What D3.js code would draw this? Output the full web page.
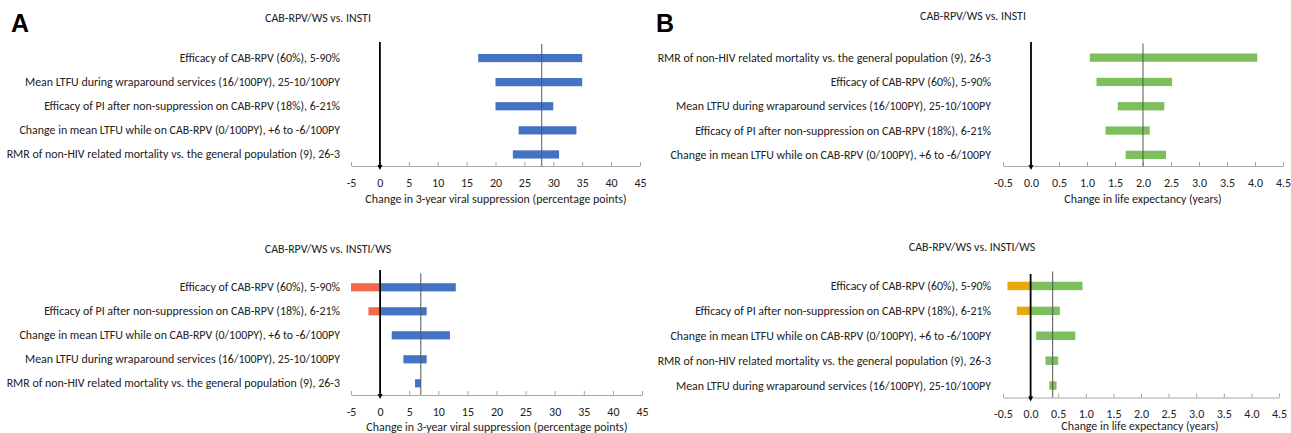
<!DOCTYPE html>
<html>
<head>
<meta charset="utf-8">
<script src="https://cdn.jsdelivr.net/npm/d3@7/dist/d3.min.js"></script>
<style>
  html, body { margin: 0; padding: 0; background: #fff; }
  svg { display: block; }
</style>
</head>
<body>
<svg id="chart" width="1291" height="433"></svg>
<script>
// ---------------- DATA ----------------
const titleTop = "CAB-RPV/WS vs. INSTI";
const titleBottom = "CAB-RPV/WS vs. INSTI/WS";
const axisTitleA = "Change in 3-year viral suppression (percentage points)";
const axisTitleB = "Change in life expectancy (years)";

const ticksA = [-5, 0, 5, 10, 15, 20, 25, 30, 35, 40, 45];
const tickLabelsA = ["-5", "0", "5", "10", "15", "20", "25", "30", "35", "40", "45"];
const ticksB = [-0.5, 0, 0.5, 1, 1.5, 2, 2.5, 3, 3.5, 4, 4.5];
const tickLabelsB = ["-0.5", "0.0", "0.5", "1.0", "1.5", "2.0", "2.5", "3.0", "3.5", "4.0", "4.5"];

// Panel A, top: CAB-RPV/WS vs. INSTI (viral suppression)
const catsATop = [
  "Efficacy of CAB-RPV (60%), 5-90%",
  "Mean LTFU during wraparound services (16/100PY), 25-10/100PY",
  "Efficacy of PI after non-suppression on CAB-RPV (18%), 6-21%",
  "Change in mean LTFU while on CAB-RPV (0/100PY), +6 to -6/100PY",
  "RMR of non-HIV related mortality vs. the general population (9), 26-3"
];
const lowATop  = [17, 20, 20, 24, 23];
const highATop = [35, 35, 30, 34, 31];
const baseATop = 28;

// Panel A, bottom: CAB-RPV/WS vs. INSTI/WS (viral suppression)
const catsABot = [
  "Efficacy of CAB-RPV (60%), 5-90%",
  "Efficacy of PI after non-suppression on CAB-RPV (18%), 6-21%",
  "Change in mean LTFU while on CAB-RPV (0/100PY), +6 to -6/100PY",
  "Mean LTFU during wraparound services (16/100PY), 25-10/100PY",
  "RMR of non-HIV related mortality vs. the general population (9), 26-3"
];
const lowABot  = [-5, -2, 2, 4, 6];
const highABot = [13, 8, 12, 8, 7];
const baseABot = 7;

// Panel B, top: CAB-RPV/WS vs. INSTI (life expectancy)
const catsBTop = [
  "RMR of non-HIV related mortality vs. the general population (9), 26-3",
  "Efficacy of CAB-RPV (60%), 5-90%",
  "Mean LTFU during wraparound services (16/100PY), 25-10/100PY",
  "Efficacy of PI after non-suppression on CAB-RPV (18%), 6-21%",
  "Change in mean LTFU while on CAB-RPV (0/100PY), +6 to -6/100PY"
];
const lowBTop  = [1.05, 1.17, 1.55, 1.33, 1.69];
const highBTop = [4.04, 2.52, 2.38, 2.12, 2.41];
const baseBTop = 2.0;

// Panel B, bottom: CAB-RPV/WS vs. INSTI/WS (life expectancy)
const catsBBot = [
  "Efficacy of CAB-RPV (60%), 5-90%",
  "Efficacy of PI after non-suppression on CAB-RPV (18%), 6-21%",
  "Change in mean LTFU while on CAB-RPV (0/100PY), +6 to -6/100PY",
  "RMR of non-HIV related mortality vs. the general population (9), 26-3",
  "Mean LTFU during wraparound services (16/100PY), 25-10/100PY"
];
const lowBBot  = [-0.42, -0.25, 0.10, 0.27, 0.34];
const highBBot = [0.94, 0.53, 0.81, 0.50, 0.47];
const baseBBot = 0.4;

// ---------------- STYLE ----------------
const FONT = "Carlito, Calibri, 'Liberation Sans Narrow', 'Liberation Sans', Arial, sans-serif";
const FS = 11.9;
const blue = "#4472C4", orange = "#F4694B";
const green = "#7DBF5C", gold = "#E8AA0B";

const svg = d3.select("#chart");

function drawChart(cfg) {
  const g = svg.append("g");
  const x = d3.scaleLinear().domain(cfg.domain).range(cfg.xRange);
  const y = d3.scaleBand().domain(cfg.cats).range(cfg.yRange).paddingInner(0.66).paddingOuter(0.33);
  const rows = cfg.cats.map((c, i) => ({ cat: c, low: cfg.low[i], high: cfg.high[i] }));

  // title
  g.append("text")
    .attr("x", cfg.titleX).attr("y", cfg.titleY)
    .attr("text-anchor", "middle").attr("dominant-baseline", "central")
    .style("font-family", FONT).style("font-size", FS + "px").attr("fill", "#222")
    .text(cfg.title);

  // bars
  const segs = [];
  rows.forEach(r => {
    if (r.low < 0) {
      segs.push({ cat: r.cat, a: r.low, b: 0, c: cfg.neg });
      segs.push({ cat: r.cat, a: 0, b: r.high, c: cfg.pos });
    } else {
      segs.push({ cat: r.cat, a: r.low, b: r.high, c: cfg.pos });
    }
  });
  g.selectAll("rect.bar").data(segs).enter().append("rect")
    .attr("class", "bar")
    .attr("x", d => x(d.a))
    .attr("width", d => x(d.b) - x(d.a))
    .attr("y", d => y(d.cat))
    .attr("height", y.bandwidth())
    .attr("fill", d => d.c);

  // category labels
  g.selectAll("text.cat").data(rows).enter().append("text")
    .attr("class", "cat")
    .attr("x", cfg.labelRight)
    .attr("y", d => y(d.cat) + y.bandwidth() / 2)
    .attr("text-anchor", "end").attr("dominant-baseline", "central")
    .style("font-family", FONT).style("font-size", FS + "px").attr("fill", "#222")
    .text(d => d.cat);

  // axis
  const axis = d3.axisBottom(x)
    .tickValues(cfg.ticks)
    .tickFormat((d, i) => cfg.tickLabels[i])
    .tickSizeInner(-4).tickSizeOuter(0).tickPadding(12);
  const ax = g.append("g").attr("transform", `translate(0,${cfg.axisY})`).call(axis);
  ax.select(".domain").attr("stroke", "#a6a6a6");
  ax.selectAll(".tick line").attr("stroke", "#a6a6a6");
  ax.selectAll(".tick text")
    .style("font-family", FONT).style("font-size", "12px").attr("fill", "#222");

  // reference (base case) line
  g.append("line")
    .attr("x1", x(cfg.base)).attr("x2", x(cfg.base))
    .attr("y1", cfg.yRange[0] - 2).attr("y2", cfg.axisY)
    .attr("stroke", "#555").attr("stroke-width", 1);

  // zero line with arrow
  const x0 = x(0);
  g.append("line")
    .attr("x1", x0).attr("x2", x0)
    .attr("y1", cfg.zeroTop).attr("y2", cfg.axisY + 1)
    .attr("stroke", "#000").attr("stroke-width", 1.8);
  g.append("path")
    .attr("d", `M${x0 - 2.5},${cfg.axisY - 1} L${x0 + 2.5},${cfg.axisY - 1} L${x0},${cfg.axisY + 4} Z`)
    .attr("fill", "#000");

  // axis title
  g.append("text")
    .attr("x", cfg.axisTitleX).attr("y", cfg.axisTitleY)
    .attr("text-anchor", "middle").attr("dominant-baseline", "central")
    .style("font-family", FONT).style("font-size", FS + "px").attr("fill", "#222")
    .text(cfg.axisTitle);
}

drawChart({
  title: titleTop, titleX: 318, titleY: 18,
  cats: catsATop, low: lowATop, high: highATop, base: baseATop,
  domain: [-5, 45], xRange: [351, 640], yRange: [46, 166.5],
  ticks: ticksA, tickLabels: tickLabelsA, axisY: 166, zeroTop: 42,
  labelRight: 340, pos: blue, neg: orange,
  axisTitle: axisTitleA, axisTitleX: 496, axisTitleY: 199
});
drawChart({
  title: titleBottom, titleX: 328, titleY: 249,
  cats: catsABot, low: lowABot, high: highABot, base: baseABot,
  domain: [-5, 45], xRange: [351, 642], yRange: [275.3, 395.3],
  ticks: ticksA, tickLabels: tickLabelsA, axisY: 395, zeroTop: 270,
  labelRight: 340, pos: blue, neg: orange,
  axisTitle: axisTitleA, axisTitleX: 497, axisTitleY: 427
});
drawChart({
  title: titleTop, titleX: 973, titleY: 16,
  cats: catsBTop, low: lowBTop, high: highBTop, base: baseBTop,
  domain: [-0.5, 4.5], xRange: [1003, 1283], yRange: [45.5, 167],
  ticks: ticksB, tickLabels: tickLabelsB, axisY: 166, zeroTop: 42,
  labelRight: 991, pos: green, neg: gold,
  axisTitle: axisTitleB, axisTitleX: 1143, axisTitleY: 199
});
drawChart({
  title: titleBottom, titleX: 972, titleY: 247,
  cats: catsBBot, low: lowBBot, high: highBBot, base: baseBBot,
  domain: [-0.5, 4.5], xRange: [1003, 1279], yRange: [273.5, 398],
  ticks: ticksB, tickLabels: tickLabelsB, axisY: 397.5, zeroTop: 274,
  labelRight: 991, pos: green, neg: gold,
  axisTitle: axisTitleB, axisTitleX: 1140, axisTitleY: 426
});

// panel letters
svg.append("text").attr("x", 11).attr("y", 32)
  .style("font-family", "'Liberation Sans', Arial, sans-serif").style("font-weight", "bold")
  .style("font-size", "25px").attr("fill", "#000").text("A");
svg.append("text").attr("x", 656).attr("y", 32)
  .style("font-family", "'Liberation Sans', Arial, sans-serif").style("font-weight", "bold")
  .style("font-size", "25px").attr("fill", "#000").text("B");
</script>
</body>
</html>
